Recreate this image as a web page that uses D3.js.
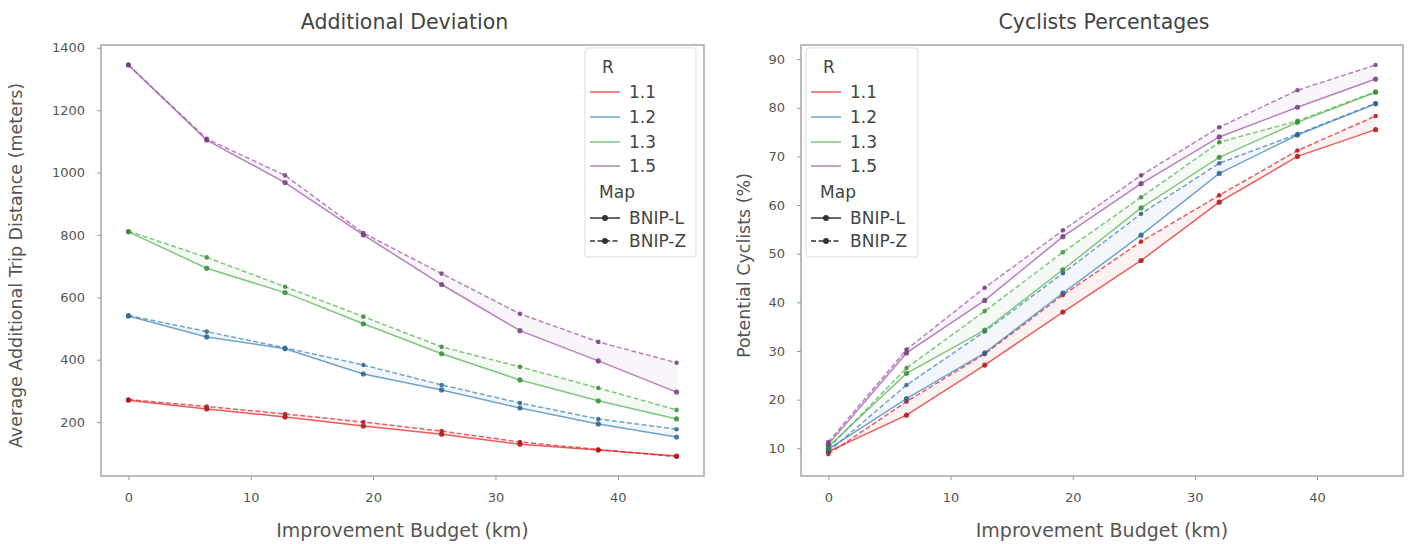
<!DOCTYPE html>
<html><head><meta charset="utf-8">
<script src="https://cdn.jsdelivr.net/npm/d3@7"></script>
<style>body{margin:0;background:#fff;} svg{display:block;}</style>
</head><body>
<svg id="chart" width="1410" height="544"></svg>
<script>
const budget = [0, 6.4, 12.8, 19.2, 25.6, 32, 38.4, 44.8];
const rValues = ["1.1", "1.2", "1.3", "1.5"];
const maps = ["BNIP-L", "BNIP-Z"];

const deviationL = {
  "1.1": [270, 242, 216, 187, 161, 129, 110, 91],
  "1.2": [540, 473, 435, 354, 303, 245, 194, 152],
  "1.3": [810, 693, 615, 515, 419, 335, 268, 210],
  "1.5": [1345, 1104, 968, 800, 641, 493, 396, 296]
};
const deviationZ = {
  "1.1": [272, 250, 226, 200, 171, 136, 112, 89],
  "1.2": [542, 490, 438, 383, 319, 261, 210, 177],
  "1.3": [812, 728, 634, 538, 441, 377, 309, 239],
  "1.5": [1345, 1108, 991, 806, 676, 547, 457, 390]
};
const cyclistsL = {
  "1.1": [9.3, 16.8, 27.1, 38.0, 48.6, 60.6, 70.0, 75.5],
  "1.2": [9.8, 20.2, 29.6, 41.9, 53.8, 66.5, 74.4, 80.8],
  "1.3": [10.3, 25.4, 34.3, 46.7, 59.4, 69.8, 77.0, 83.2],
  "1.5": [10.8, 29.6, 40.4, 53.5, 64.4, 74.0, 80.1, 85.9]
};
const cyclistsZ = {
  "1.1": [8.8, 19.6, 29.4, 41.5, 52.5, 62.0, 71.2, 78.3],
  "1.2": [9.3, 23.0, 34.0, 46.0, 58.2, 68.6, 74.6, 80.9],
  "1.3": [10.0, 26.5, 38.2, 50.3, 61.6, 72.9, 77.3, 83.3],
  "1.5": [11.3, 30.3, 43.0, 54.8, 66.1, 76.0, 83.6, 88.8]
};
const xTicks = [0, 10, 20, 30, 40];
const yTicksLeft = [200, 400, 600, 800, 1000, 1200, 1400];
const yTicksRight = [10, 20, 30, 40, 50, 60, 70, 80, 90];

const colors = {"1.1": "#e41a1c", "1.2": "#377eb8", "1.3": "#4daf4a", "1.5": "#984ea3"};
const FONT = "DejaVu Sans, sans-serif";
const svg = d3.select("#chart");

function panel(opts) {
  const {x0, x1, y0, y1, yDomain, yTicks, title, ylabel, ylabelX, dataL, dataZ, legendX, legendW} = opts;
  const x = d3.scaleLinear().domain([-2.24, 47.04]).range([x0, x1]);
  const y = d3.scaleLinear().domain(yDomain).range([y1, y0]);
  const g = svg.append("g");

  rValues.forEach(r => {
    const area = d3.area().x((d, i) => x(budget[i])).y0((d, i) => y(dataL[r][i])).y1((d, i) => y(dataZ[r][i]));
    g.append("path").attr("d", area(budget)).attr("fill", colors[r]).attr("fill-opacity", 0.06);
  });

  const line = d3.line().x((d, i) => x(budget[i])).y(d => y(d));
  rValues.forEach(r => {
    [["L", dataL[r]], ["Z", dataZ[r]]].forEach(([m, vals]) => {
      g.append("path").attr("d", line(vals)).attr("fill", "none")
        .attr("stroke", colors[r]).attr("stroke-opacity", 0.7).attr("stroke-width", 1.5)
        .attr("stroke-dasharray", m === "Z" ? "5,2.5" : null);
      g.selectAll(null).data(vals).enter().append("circle")
        .attr("cx", (d, i) => x(budget[i])).attr("cy", d => y(d)).attr("r", m === "L" ? 2.6 : 2.3)
        .attr("fill", d3.color(colors[r]).darker(0.7)).attr("fill-opacity", 0.85);
    });
  });

  g.append("rect").attr("x", x0).attr("y", y0).attr("width", x1 - x0).attr("height", y1 - y0)
    .attr("fill", "none").attr("stroke", "#999").attr("stroke-width", 1.3);

  const xa = g.append("g").attr("transform", `translate(0,${y1})`)
    .call(d3.axisBottom(x).tickValues(xTicks).tickSize(4).tickPadding(13).tickFormat(d3.format("d")));
  xa.select(".domain").remove();
  xa.selectAll("line").attr("stroke", "#999");
  xa.selectAll("text").attr("font-family", FONT).attr("font-size", 13).attr("fill", "#555");

  const ya = g.append("g").attr("transform", `translate(${x0},0)`)
    .call(d3.axisLeft(y).tickValues(yTicks).tickSize(4).tickPadding(12).tickFormat(d3.format("d")));
  ya.select(".domain").remove();
  ya.selectAll("line").attr("stroke", "#999");
  ya.selectAll("text").attr("font-family", FONT).attr("font-size", 13).attr("fill", "#555");

  g.append("text").attr("x", (x0 + x1) / 2 + 2).attr("y", 29).attr("text-anchor", "middle")
    .attr("font-family", FONT).attr("font-size", 20.5).attr("fill", "#444").text(title);
  g.append("text").attr("x", (x0 + x1) / 2).attr("y", 537).attr("text-anchor", "middle")
    .attr("font-family", FONT).attr("font-size", 19).attr("fill", "#555").text("Improvement Budget (km)");
  g.append("text").attr("transform", `translate(${ylabelX},${(y0 + y1) / 2 + 5}) rotate(-90)`)
    .attr("text-anchor", "middle").attr("font-family", FONT).attr("font-size", 17.5).attr("fill", "#555").text(ylabel);

  const lg = g.append("g").attr("transform", `translate(${legendX},48)`);
  lg.append("rect").attr("x", 0).attr("y", 0).attr("width", legendW).attr("height", 209).attr("rx", 3)
    .attr("fill", "#fff").attr("fill-opacity", 0.85).attr("stroke", "#ddd");
  const rowY = [19, 44, 69, 94, 118, 144, 170, 193];
  const LF = 17;
  lg.append("text").attr("x", 23).attr("y", rowY[0] + 6).attr("text-anchor", "middle")
    .attr("font-family", FONT).attr("font-size", LF).attr("fill", "#444").text("R");
  rValues.forEach((r, i) => {
    const yy = rowY[i + 1];
    lg.append("line").attr("x1", 5).attr("x2", 35).attr("y1", yy).attr("y2", yy)
      .attr("stroke", colors[r]).attr("stroke-opacity", 0.7).attr("stroke-width", 1.5);
    lg.append("text").attr("x", 44).attr("y", yy + 6).attr("font-family", FONT).attr("font-size", LF)
      .attr("fill", "#444").text(r);
  });
  lg.append("text").attr("x", 32).attr("y", rowY[5] + 6).attr("text-anchor", "middle")
    .attr("font-family", FONT).attr("font-size", LF).attr("fill", "#444").text("Map");
  maps.forEach((m, i) => {
    const yy = rowY[6 + i];
    lg.append("line").attr("x1", 5).attr("x2", 35).attr("y1", yy).attr("y2", yy)
      .attr("stroke", "#333").attr("stroke-width", 1.5).attr("stroke-dasharray", i === 1 ? "5,2.5" : null);
    lg.append("circle").attr("cx", 20).attr("cy", yy).attr("r", 3).attr("fill", "#333");
    lg.append("text").attr("x", 44).attr("y", yy + 6).attr("font-family", FONT).attr("font-size", LF)
      .attr("fill", "#444").text(m);
  });
}

panel({x0: 101, x1: 704, y0: 45, y1: 476, yDomain: [27, 1409], yTicks: yTicksLeft,
  title: "Additional Deviation", ylabel: "Average Additional Trip Distance (meters)", ylabelX: 22,
  dataL: deviationL, dataZ: deviationZ, legendX: 585, legendW: 111});
panel({x0: 801, x1: 1403, y0: 45, y1: 476, yDomain: [4.3, 92.9], yTicks: yTicksRight,
  title: "Cyclists Percentages", ylabel: "Potential Cyclists (%)", ylabelX: 750,
  dataL: cyclistsL, dataZ: cyclistsZ, legendX: 806, legendW: 112});
</script>
</body></html>
